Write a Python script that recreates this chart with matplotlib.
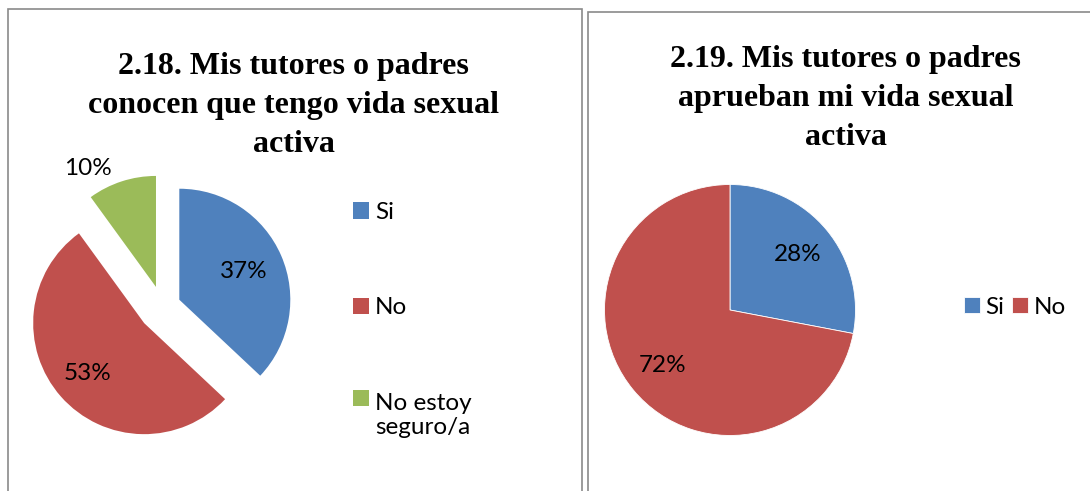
import numpy as np
import matplotlib.pyplot as plt
from matplotlib.patches import Rectangle
from matplotlib.legend_handler import HandlerPatch

# datos
etiquetas_1 = ['Si', 'No', 'No estoy\nseguro/a']
valores_1 = [37, 53, 10]
titulo_1 = '2.18. Mis tutores o padres\nconocen que tengo vida sexual\nactiva'

etiquetas_2 = ['Si', 'No']
valores_2 = [28, 72]
titulo_2 = '2.19. Mis tutores o padres\naprueban mi vida sexual\nactiva'

colores = ['#4F81BD', '#C0504D', '#9BBB59']

W, H = 1090, 491
fig = plt.figure(figsize=(W / 100, H / 100), dpi=100)

fuente = 'Lato'
fs = 17.5
titulo_font = dict(family='Liberation Serif', weight='bold', size=23)


def ejes_px(cx, cy, half=150):
    # ejes cuadrados centrados en (cx, cy) en pixeles
    ax = fig.add_axes([(cx - half) / W, (H - cy - half) / H, 2 * half / W, 2 * half / H])
    return ax


def fijar_lim(ax, r, half=150):
    lim = half / r
    ax.set_xlim(-lim, lim)
    ax.set_ylim(-lim, lim)
    ax.set_aspect('equal')
    ax.axis('off')


def etiquetas_pct(ax, wedges, valores, dists, giros):
    for w, v, d, g in zip(wedges, valores, dists, giros):
        ang = np.deg2rad((w.theta1 + w.theta2) / 2 + g)
        x = w.center[0] + d * np.cos(ang)
        y = w.center[1] + d * np.sin(ang)
        ax.text(x, y, f'{v}%', ha='center', va='center', fontsize=fs, family=fuente)


def cuadro_arriba(legend, orig_handle, xdescent, ydescent, width, height, fontsize):
    # cuadro alineado con la primera linea de una etiqueta de dos lineas
    return Rectangle((-xdescent, -ydescent + 0.72 * fontsize), width, height)


# marcos de los graficos
fig.patches.append(Rectangle((8.3 / W, -0.1), (581.7 - 8.3) / W, 1.1 - 9 / H,
                             transform=fig.transFigure, fill=False, ec='#8a8a8a', lw=1.2))
fig.patches.append(Rectangle((588.3 / W, -0.1), 0.5, 1.1 - 11.7 / H,
                             transform=fig.transFigure, fill=False, ec='#8a8a8a', lw=1.2))

# grafico 2.18
ax1 = ejes_px(162.5, 307)
w1, _ = ax1.pie(valores_1, colors=colores, startangle=90, counterclock=False,
                explode=[0.165, 0.22, 0.19], radius=1,
                wedgeprops=dict(linewidth=0))
fijar_lim(ax1, 111)
etiquetas_pct(ax1, w1, valores_1, [0.63, 0.68, 1.23], [0, 0, 12])
fig.text(293.8 / W, 1 - 152 / H, titulo_1, ha='center', va='baseline',
         linespacing=1.45, **titulo_font)
fig.legend(w1, etiquetas_1, loc='upper left', bbox_to_anchor=(353 / W, 1 - 202 / H),
           frameon=False, prop=dict(family=fuente, size=fs),
           handlelength=0.66, handleheight=0.66, handletextpad=0.25,
           labelspacing=3.06, borderpad=0, borderaxespad=0,
           handler_map={w1[2]: HandlerPatch(patch_func=cuadro_arriba)})

# grafico 2.19
ax2 = ejes_px(730, 310)
w2, _ = ax2.pie(valores_2, colors=colores[:2], startangle=90, counterclock=False,
                radius=1, wedgeprops=dict(linewidth=0.6, edgecolor='white'))
fijar_lim(ax2, 125.5)
etiquetas_pct(ax2, w2, valores_2, [0.70, 0.70], [0, 0])
fig.text(845.8 / W, 1 - 145 / H, titulo_2, ha='center', va='baseline',
         linespacing=1.45, **titulo_font)
fig.legend(w2, etiquetas_2, loc='center left', bbox_to_anchor=(964 / W, 1 - 307 / H),
           ncol=2, frameon=False, prop=dict(family=fuente, size=fs),
           handlelength=0.66, handleheight=0.66, handletextpad=0.22,
           columnspacing=0.33, borderpad=0, borderaxespad=0)

fig.savefig('out.png', dpi=100)
